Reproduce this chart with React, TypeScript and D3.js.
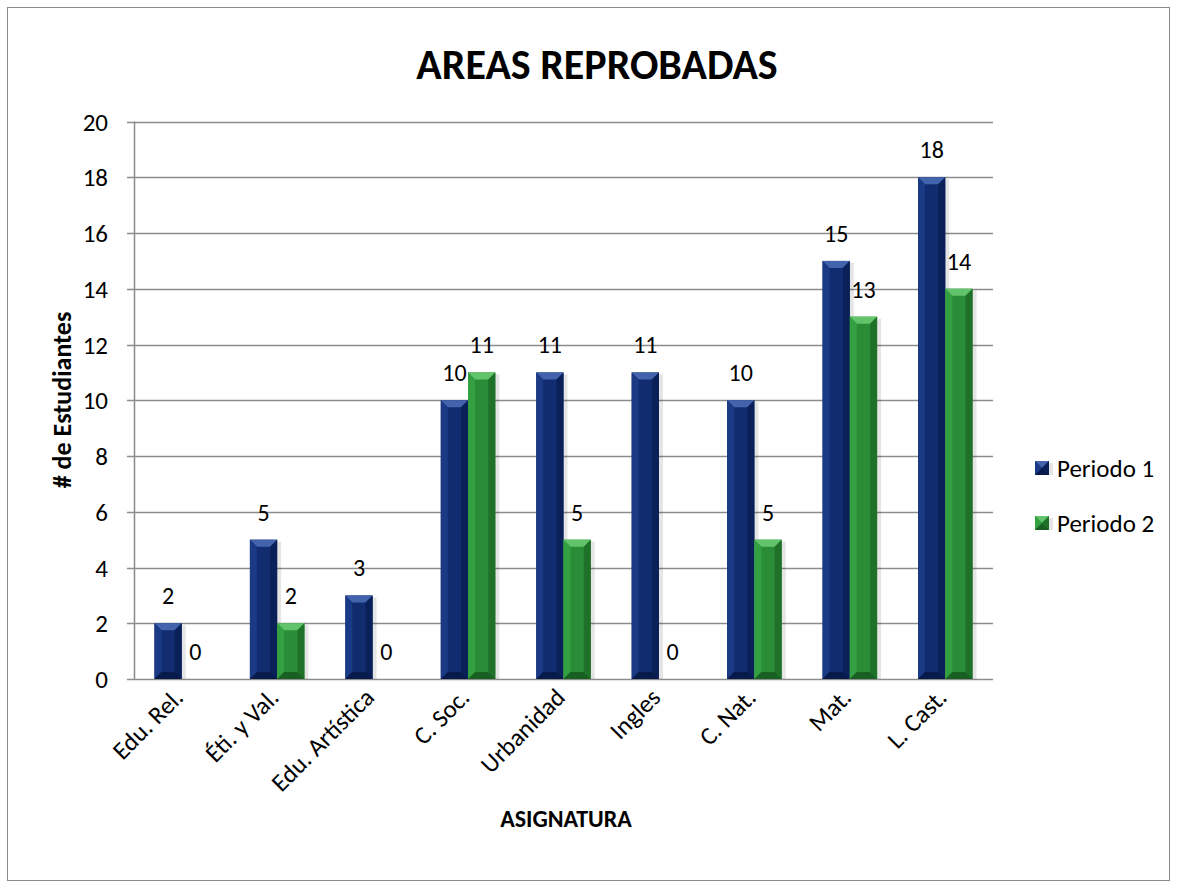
import React from "react";
import * as d3 from "d3";

const categories = ["Edu. Rel.", "Éti. y Val.", "Edu. Artística", "C. Soc.", "Urbanidad", "Ingles", "C. Nat.", "Mat.", "L. Cast."];
const periodo1 = [2, 5, 3, 10, 11, 11, 10, 15, 18];
const periodo2 = [0, 2, 0, 11, 5, 0, 5, 13, 14];
const seriesNames = ["Periodo 1", "Periodo 2"];
const yTicks = [0, 2, 4, 6, 8, 10, 12, 14, 16, 18, 20];

const W = 1177;
const H = 888;
const FONT = "Calibri, Carlito, Lato, sans-serif";

const palette = [
  { base: "#112d70", top: "#4463ad", left: "#1a3a85", right: "#0a2058", bottom: "#081a4a" },
  { base: "#2a8c37", top: "#62c46a", left: "#33a042", right: "#1f7029", bottom: "#186022" },
];

function Bar({ x, y, w, h, c }: { x: number; y: number; w: number; h: number; c: any }) {
  if (h <= 0) return null;
  const b = Math.min(7, w / 2, h / 2);
  const x2 = x + w;
  const y2 = y + h;
  return (
    <g>
      <rect x={x + 2} y={y + 2} width={w + 2} height={h - 2} fill="#000" opacity={0.1} />
      <rect x={x} y={y} width={w} height={h} fill={c.base} />
      <polygon points={`${x},${y} ${x2},${y} ${x2 - b},${y + b} ${x + b},${y + b}`} fill={c.top} />
      <polygon points={`${x},${y} ${x + b},${y + b} ${x + b},${y2 - b} ${x},${y2}`} fill={c.left} />
      <polygon points={`${x2},${y} ${x2 - b},${y + b} ${x2 - b},${y2 - b} ${x2},${y2}`} fill={c.right} />
      <polygon points={`${x},${y2} ${x + b},${y2 - b} ${x2 - b},${y2 - b} ${x2},${y2}`} fill={c.bottom} />
    </g>
  );
}

export default function App() {
  const left = 134;
  const right = 993;
  const top = 121.5;
  const bottom = 679;

  const x = d3.scaleBand<string>().domain(categories).range([left, right]).paddingInner(0).paddingOuter(0);
  const y = d3.scaleLinear().domain([0, 20]).range([bottom, top]);
  const bw = x.bandwidth() / 3.5;
  const series = [periodo1, periodo2];

  return (
    <svg width={W} height={H} style={{ position: "absolute", left: 0, top: 0 }} fontFamily={FONT}>
      <rect x={0} y={0} width={W} height={H} fill="#fff" />
      <rect x={7.5} y={7.5} width={1162} height={873} fill="none" stroke="#8a8a8a" strokeWidth={1} />
      <text x={597} y={79} textAnchor="middle" fontSize={42} fontWeight="bold" fill="#000">
        AREAS REPROBADAS
      </text>

      {yTicks.map((t) => (
        <g key={t}>
          <line x1={left - 7} x2={right} y1={Math.round(y(t)) + 0.5} y2={Math.round(y(t)) + 0.5} stroke="#8c8c8c" strokeWidth={1.5} />
          <text x={108} y={y(t) + 9} textAnchor="end" fontSize={25} fill="#000">
            {t}
          </text>
        </g>
      ))}
      <line x1={left + 0.5} x2={left + 0.5} y1={top} y2={bottom} stroke="#8c8c8c" strokeWidth={1.5} />

      {series.map((vals, si) =>
        vals.map((v, i) => {
          const bx = (x(categories[i]) as number) + bw * 0.75 + si * bw;
          return (
            <g key={`${si}-${i}`}>
              <Bar x={bx} y={y(v)} w={bw} h={bottom - y(v)} c={palette[si]} />
              <text x={bx + bw / 2} y={y(v) - 19} textAnchor="middle" fontSize={24} fill="#000">
                {v}
              </text>
            </g>
          );
        })
      )}

      {categories.map((c) => {
        const cx = (x(c) as number) + x.bandwidth() / 2 + 3;
        return (
          <text key={c} transform={`translate(${cx},${bottom + 20}) rotate(-45)`} textAnchor="end" fontSize={25} fill="#000">
            {c}
          </text>
        );
      })}

      <text transform={`translate(71,400) rotate(-90)`} textAnchor="middle" fontSize={26} fontWeight="bold" fill="#000">
        # de Estudiantes
      </text>
      <text x={566} y={827} textAnchor="middle" fontSize={24} fontWeight="bold" fill="#000">
        ASIGNATURA
      </text>

      {seriesNames.map((n, i) => {
        const ly = 468 + i * 55;
        return (
          <g key={n}>
            <Bar x={1035} y={ly - 7} w={14} h={14} c={palette[i]} />
            <text x={1057} y={ly + 9} fontSize={25} fill="#000">
              {n}
            </text>
          </g>
        );
      })}
    </svg>
  );
}
